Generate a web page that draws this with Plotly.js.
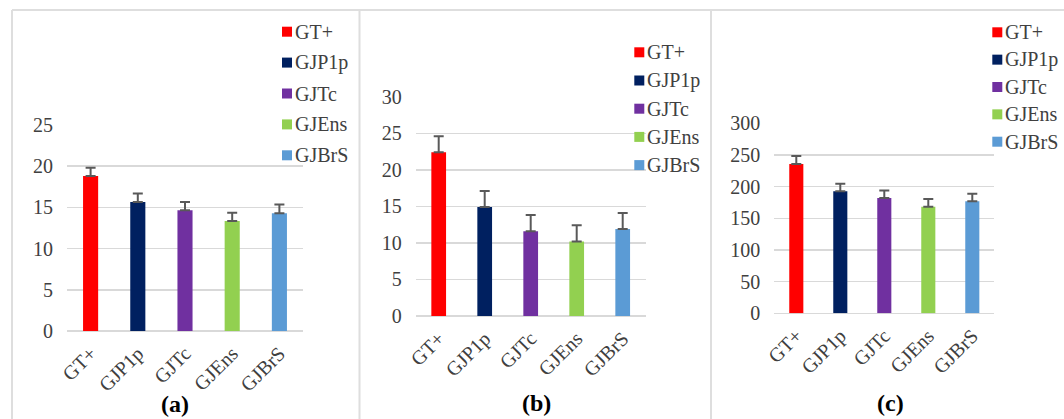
<!DOCTYPE html>
<html>
<head>
<meta charset="utf-8">
<script src="https://cdn.plot.ly/plotly-3.0.1.min.js"></script>
<style>html,body{margin:0;padding:0;background:#fff;}#chart{width:1064px;height:419px;}</style>
</head>
<body>
<div id="chart"></div>
<script>
// ---- data ----
const categories = ["GT+", "GJP1p", "GJTc", "GJEns", "GJBrS"];
const colors = ["#ff0000", "#002060", "#7030a0", "#92d050", "#5b9bd5"];
const valuesA = [18.8, 15.65, 14.65, 13.35, 14.3];
const errorsA = [1.0, 1.05, 1.0, 1.0, 1.05];
const valuesB = [22.4, 14.9, 11.6, 10.2, 11.9];
const errorsB = [2.2, 2.2, 2.2, 2.2, 2.2];
const valuesC = [235.8, 192.6, 182.0, 168.4, 176.8];
const errorsC = [12.5, 12.0, 12.0, 12.0, 12.0];
const panelLabels = ["(a)", "(b)", "(c)"];
const yTicksA = [0, 5, 10, 15, 20, 25];
const yTicksB = [0, 5, 10, 15, 20, 25, 30];
const yTicksC = [0, 50, 100, 150, 200, 250, 300];

const W = 1064, H = 419;
const px = x => x / W;
const py = y => 1 - y / H;
const FONT = "'Liberation Serif', 'DejaVu Serif', serif";
const FS = 20;

const panels = [
  {vals: valuesA, errs: errorsA, ticks: yTicksA, x: [67, 303], y: [125, 331], ax: ""},
  {vals: valuesB, errs: errorsB, ticks: yTicksB, x: [415.7, 645.7], y: [96.7, 316], ax: "2"},
  {vals: valuesC, errs: errorsC, ticks: yTicksC, x: [774.3, 994.3], y: [123.3, 313.3], ax: "3"}
];

const traces = [];
panels.forEach((p, pi) => {
  categories.forEach((c, i) => {
    traces.push({
      type: "bar",
      x: [c],
      y: [p.vals[i]],
      name: c,
      showlegend: false,
      xaxis: "x" + p.ax,
      yaxis: "y" + p.ax,
      marker: {color: colors[i], line: {width: 0}},
      error_y: {type: "data", symmetric: false, array: [p.errs[i]], arrayminus: [0],
                color: "#595959", thickness: 2, width: 5},
      hoverinfo: "x+y"
    });
  });
});

const layout = {
  width: W, height: H,
  margin: {l: 0, r: 0, t: 0, b: 0, autoexpand: false},
  paper_bgcolor: "#ffffff",
  plot_bgcolor: "rgba(0,0,0,0)",
  barmode: "overlay",
  bargap: 0.68,
  font: {family: FONT, size: FS, color: "#404040"},
  showlegend: false,
  shapes: [
    {type: "line", xref: "paper", yref: "paper", x0: px(12), x1: px(12), y0: py(10), y1: py(430), line: {color: "#dedede", width: 2}},
    {type: "line", xref: "paper", yref: "paper", x0: px(12), x1: px(1070), y0: py(10), y1: py(10), line: {color: "#dedede", width: 2}},
    {type: "line", xref: "paper", yref: "paper", x0: px(359.5), x1: px(359.5), y0: py(10), y1: py(430), line: {color: "#dedede", width: 2}},
    {type: "line", xref: "paper", yref: "paper", x0: px(711), x1: px(711), y0: py(10), y1: py(430), line: {color: "#dedede", width: 2}}
  ],
  annotations: []
};

const labelPos = [[175, 404], [536.7, 403], [890, 403]];
// legend layout per panel: [square left, first row centre, row spacing]
const legendPos = [[282, 31.7, 30.9], [634.3, 52.3, 28.2], [992.3, 32.3, 27.35]];
const SQ = 10;

panels.forEach((p, pi) => {
  const xa = "xaxis" + p.ax, ya = "yaxis" + p.ax;
  layout[xa] = {
    domain: [px(p.x[0]), px(p.x[1])],
    anchor: "y" + p.ax,
    type: "category",
    tickangle: -45,
    showgrid: false,
    showline: false,
    zeroline: false,
    ticks: "",
    ticklabelstandoff: 6,
    tickfont: {family: FONT, size: FS, color: "#404040"},
    fixedrange: true
  };
  layout[ya] = {
    domain: [py(p.y[1]), py(p.y[0])],
    anchor: "x" + p.ax,
    range: [0, p.ticks[p.ticks.length - 1]],
    tickmode: "array",
    tickvals: p.ticks,
    ticktext: p.ticks.map(String),
    showgrid: true,
    gridcolor: "#d9d9d9",
    gridwidth: 1.5,
    zeroline: true,
    zerolinecolor: "#d9d9d9",
    zerolinewidth: 1.5,
    showline: false,
    ticks: "",
    ticklabelstandoff: 13,
    tickfont: {family: FONT, size: FS, color: "#404040"},
    fixedrange: true
  };
  // legend: colour square + series name, one row per category
  const lp = legendPos[pi];
  categories.forEach((c, i) => {
    const cy = lp[1] + i * lp[2];
    layout.shapes.push({
      type: "rect", xref: "paper", yref: "paper",
      x0: px(lp[0]), x1: px(lp[0] + SQ), y0: py(cy - SQ / 2), y1: py(cy + SQ / 2),
      fillcolor: colors[i], line: {width: 0}
    });
    layout.annotations.push({
      xref: "paper", yref: "paper",
      x: px(lp[0] + SQ + 2), y: py(cy),
      xanchor: "left", yanchor: "middle",
      showarrow: false, borderpad: 0,
      text: c,
      font: {family: FONT, size: FS, color: "#404040"}
    });
  });
  layout.annotations.push({
    xref: "paper", yref: "paper",
    x: px(labelPos[pi][0]), y: py(labelPos[pi][1]),
    xanchor: "center", yanchor: "middle",
    showarrow: false,
    text: "<b>" + panelLabels[pi] + "</b>",
    font: {family: FONT, size: 24, color: "#000000"}
  });
});

Plotly.newPlot("chart", traces, layout, {staticPlot: true, displayModeBar: false});
</script>
</body>
</html>
